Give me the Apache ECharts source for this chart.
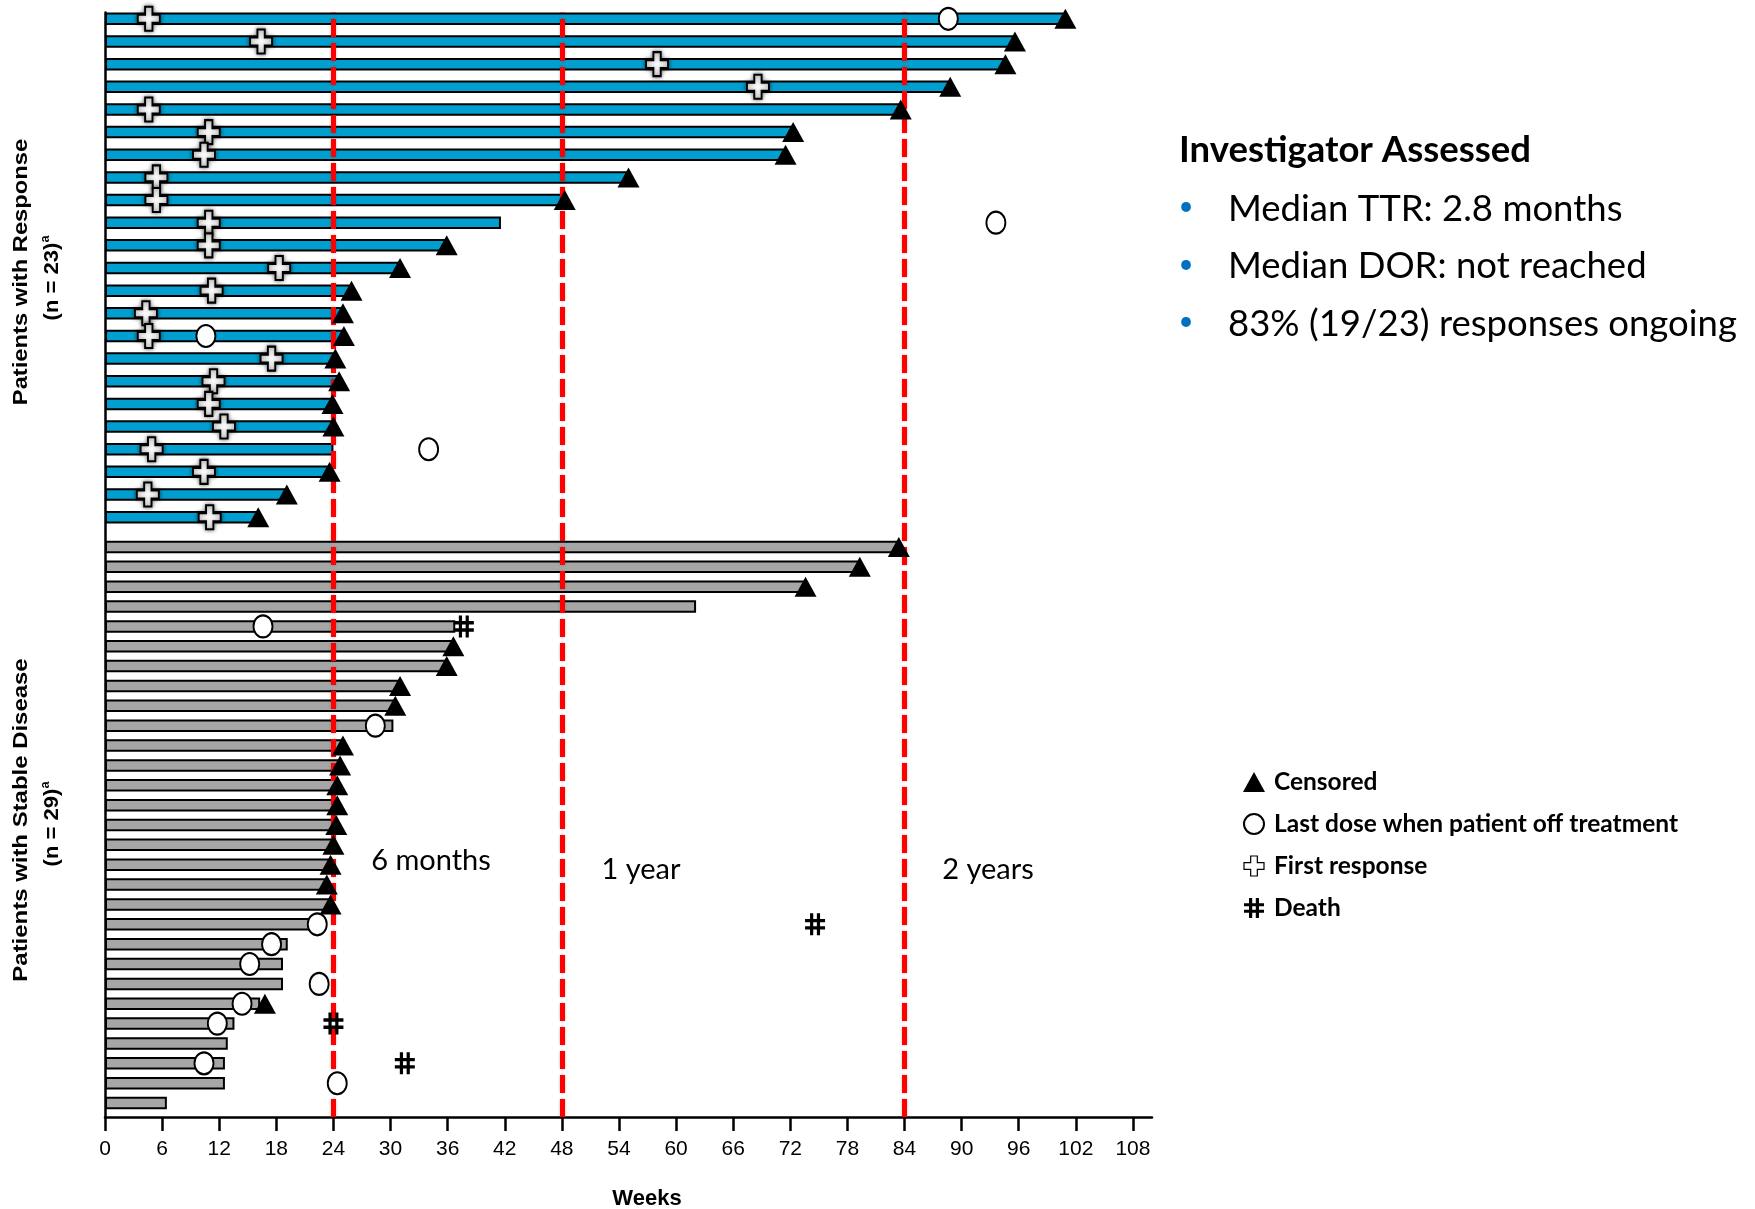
<!DOCTYPE html>
<html>
<head>
<meta charset="utf-8">
<script src="https://cdn.jsdelivr.net/npm/echarts@6/dist/echarts.min.js"></script>
<style>
  html, body { margin: 0; padding: 0; background: #ffffff; }
  #chart { width: 1755px; height: 1209px; }
</style>
</head>
<body>
<div id="chart"></div>
<script>
// ---- Patients with response (n = 23), listed top to bottom, in weeks ----
const respDuration      = [100.9, 95.6, 94.6, 88.8, 83.6, 72.3, 71.5, 55.0, 48.3, 41.6, 35.9, 31.0, 25.9, 25.0, 25.1, 24.2, 24.6, 23.9, 24.0, 24.0, 23.6, 19.1, 16.1];
const respFirstResponse = [4.6, 16.4, 58.0, 68.6, 4.6, 10.9, 10.4, 5.4, 5.4, 10.9, 10.9, 18.3, 11.2, 4.3, 4.6, 17.5, 11.4, 10.9, 12.5, 4.9, 10.4, 4.5, 11.0];
const respCensored      = [100.9, 95.6, 94.6, 88.8, 83.6, 72.3, 71.5, 55.0, 48.3, null, 35.9, 31.0, 25.9, 25.0, 25.1, 24.2, 24.6, 23.9, 24.0, null, 23.6, 19.1, 16.1];
const respLastDose      = [88.6, null, null, null, null, null, null, null, null, 93.6, null, null, null, null, 10.6, null, null, null, null, 34.0, null, null, null];

// ---- Patients with stable disease (n = 29), listed top to bottom, in weeks ----
const sdDuration = [83.4, 79.3, 73.6, 62.1, 36.8, 36.6, 35.9, 31.0, 30.5, 30.3, 25.0, 24.7, 24.4, 24.4, 24.3, 24.0, 23.7, 23.3, 23.7, 22.1, 19.2, 18.7, 18.7, 16.3, 13.6, 12.9, 12.6, 12.6, 6.5];
const sdCensored = [83.4, 79.3, 73.6, null, null, 36.6, 35.9, 31.0, 30.5, null, 25.0, 24.7, 24.4, 24.4, 24.3, 24.0, 23.7, 23.3, 23.7, null, null, null, null, 16.8, null, null, null, null, null];
const sdLastDose = [null, null, null, null, 16.6, null, null, null, null, 28.4, null, null, null, null, null, null, null, null, null, 22.3, 17.5, 15.2, 22.5, 14.4, 11.8, null, 10.4, 24.4, null];
const sdDeath    = [null, null, null, null, 37.7, null, null, null, null, null, null, null, null, null, null, null, null, null, null, 74.6, null, null, null, null, 24.0, null, 31.5, null, null];

// ---- Reference lines and axis ticks (weeks) ----
const milestoneWeeks = [24, 48, 84];
const milestoneLabels = ['6 months', '1 year', '2 years'];
const weekTicks = [0, 6, 12, 18, 24, 30, 36, 42, 48, 54, 60, 66, 72, 78, 84, 90, 96, 102, 108];

// ---- Summary text ----
const summaryTitle = 'Investigator Assessed';
const summaryBullets = ['Median TTR: 2.8 months', 'Median DOR: not reached', '83% (19/23) responses ongoing'];

const NAMES = {
  censored: 'Censored',
  lastDose: 'Last dose when patient off treatment',
  response: 'First response',
  death: 'Death'
};

const PLUS_PATH = 'path://M8,0H16V8H24V16H16V24H8V16H0V8H8Z';
const HASH_PATH = 'path://M5,0H8.2V20H5Z M11.8,0H15V20H11.8Z M0,5.2H20V8.2H0Z M0,11.8H20V14.8H0Z';

const X_MAX = 110;
const PLOT_LEFT = 105;
const PLOT_WIDTH = 1047;

const AXIS_FONT = '"Liberation Sans", Arial, sans-serif';
const TEXT_FONT = 'Lato, "Open Sans", sans-serif';

function rowPoints(values) {
  return values.map((v, i) => (v == null ? null : [v, i])).filter(Boolean);
}
function rowNames(prefix, n) {
  return Array.from({ length: n }, (_, i) => prefix + (i + 1));
}

const hiddenValueX = (gridIndex) => ({
  type: 'value', gridIndex, min: 0, max: X_MAX, show: false
});
const hiddenCatY = (gridIndex, data) => ({
  type: 'category', gridIndex, data, inverse: true, show: false
});

function markerSeries(gi, name, values, extra) {
  return Object.assign({
    type: 'scatter',
    name,
    xAxisIndex: gi,
    yAxisIndex: gi,
    data: rowPoints(values),
    silent: true,
    z: 4
  }, extra);
}

const triangleStyle = { symbol: 'triangle', symbolSize: [22, 20], itemStyle: { color: '#000000', opacity: 1 }, z: 5 };
const circleStyle = { symbol: 'circle', symbolSize: [19, 22], itemStyle: { color: '#ffffff', borderColor: '#000000', borderWidth: 2, opacity: 1 }, z: 6 };
const plusStyle = {
  symbol: PLUS_PATH, symbolSize: [22, 24],
  itemStyle: { color: '#ffffff', borderColor: '#000000', borderWidth: 2, opacity: 1, shadowBlur: 4, shadowColor: 'rgba(0,0,0,0.55)' },
  z: 6
};
const hashStyle = { symbol: HASH_PATH, symbolSize: [20, 22], itemStyle: { color: '#000000', opacity: 1 }, z: 6 };

const barBase = (gi, data, color) => ({
  type: 'bar',
  xAxisIndex: gi,
  yAxisIndex: gi,
  data,
  barWidth: 12.5,
  itemStyle: { color, borderColor: '#000000', borderWidth: 2 },
  z: 2,
  silent: true
});

function sideTitle(x, y, text, stretch) {
  return {
    type: 'text', x, y, rotation: Math.PI / 2, scaleX: stretch,
    style: { text, font: 'bold 21px ' + AXIS_FONT, fill: '#000', align: 'center', verticalAlign: 'middle' }
  };
}
function sideCount(x, y, text) {
  return {
    type: 'text', x, y, rotation: Math.PI / 2, scaleX: 1.05,
    style: {
      text: '{b|' + text + '}{s|a}', align: 'center', verticalAlign: 'middle',
      rich: {
        b: { font: 'bold 21px ' + AXIS_FONT, fill: '#000', lineHeight: 24 },
        s: { font: 'bold 12px ' + AXIS_FONT, fill: '#000', verticalAlign: 'top', lineHeight: 24 }
      }
    }
  };
}
function caption(x, y, text) {
  return {
    type: 'text', x, y,
    style: { text, font: '29px ' + TEXT_FONT, fill: '#000', align: 'center', verticalAlign: 'middle' }
  };
}

const option = {
  animation: false,
  backgroundColor: '#ffffff',
  grid: [
    { left: PLOT_LEFT, top: 7.5, width: PLOT_WIDTH, height: 521 },
    { left: PLOT_LEFT, top: 537, width: PLOT_WIDTH, height: 576 },
    { left: PLOT_LEFT, top: 12.5, width: PLOT_WIDTH, height: 1104.5 }
  ],
  xAxis: [
    hiddenValueX(0),
    hiddenValueX(1),
    {
      type: 'value', gridIndex: 2, min: 0, max: X_MAX,
      axisLine: { show: true, onZero: false, lineStyle: { color: '#000000', width: 2.5 } },
      axisTick: { show: true, customValues: weekTicks, length: 14, lineStyle: { color: '#000000', width: 2.5 } },
      axisLabel: {
        show: true, customValues: weekTicks, margin: 22,
        fontFamily: AXIS_FONT, fontSize: 21, color: '#000000'
      },
      splitLine: { show: false }
    }
  ],
  yAxis: [
    hiddenCatY(0, rowNames('R', respDuration.length)),
    hiddenCatY(1, rowNames('S', sdDuration.length)),
    {
      type: 'value', gridIndex: 2, min: 0, max: 1,
      axisLine: { show: true, onZero: false, lineStyle: { color: '#000000', width: 2.5 } },
      axisTick: { show: false }, axisLabel: { show: false }, splitLine: { show: false }
    }
  ],
  legend: {
    orient: 'vertical',
    left: 1238,
    top: 763,
    itemWidth: 22,
    itemHeight: 20,
    itemGap: 14,
    selectedMode: false,
    data: [
      { name: NAMES.censored, itemStyle: { color: '#000000' } },
      { name: NAMES.lastDose },
      { name: NAMES.response, itemStyle: { shadowBlur: 0, borderWidth: 1.2 } },
      { name: NAMES.death }
    ],
    textStyle: {
      fontFamily: TEXT_FONT, fontWeight: 'bold', fontSize: 24.5, lineHeight: 28, color: '#000000',
      padding: [0, 0, 0, 4]
    }
  },
  series: [
    barBase(0, respDuration, '#009FCF'),
    barBase(1, sdDuration, '#A6A6A6'),

    markerSeries(0, NAMES.censored, respCensored, triangleStyle),
    markerSeries(1, NAMES.censored, sdCensored, triangleStyle),
    markerSeries(0, NAMES.lastDose, respLastDose, circleStyle),
    markerSeries(1, NAMES.lastDose, sdLastDose, circleStyle),
    markerSeries(0, NAMES.response, respFirstResponse, plusStyle),
    markerSeries(1, NAMES.death, sdDeath, hashStyle),

    {
      type: 'scatter',
      name: 'milestones',
      xAxisIndex: 2,
      yAxisIndex: 2,
      data: [],
      z: 10,
      silent: true,
      markLine: {
        silent: true,
        symbol: ['none', 'none'],
        label: { show: false },
        lineStyle: {
          color: '#FF0000', width: 5, type: [18, 6],
          shadowBlur: 3, shadowColor: 'rgba(0,0,0,0.25)'
        },
        emphasis: { disabled: true },
        data: milestoneWeeks.map((w) => ({ xAxis: w }))
      }
    }
  ],
  graphic: [
    // group titles along the left edge
    sideTitle(21, 272, 'Patients with Response', 1.13),
    sideCount(52, 278, '(n = 23)'),
    sideTitle(21, 820, 'Patients with Stable Disease', 1.14),
    sideCount(52, 824, '(n = 29)'),
    // x axis title
    {
      type: 'text', x: 647, y: 1199,
      style: { text: 'Weeks', font: 'bold 22px ' + AXIS_FONT, fill: '#000', align: 'center', verticalAlign: 'middle' }
    },
    // milestone captions
    caption(431, 861, milestoneLabels[0]),
    caption(641, 870, milestoneLabels[1]),
    caption(988, 870, milestoneLabels[2]),
    // summary panel
    {
      type: 'text', x: 1179, y: 150,
      style: { text: summaryTitle, font: 'bold 36.5px ' + TEXT_FONT, fill: '#000', align: 'left', verticalAlign: 'middle' }
    }
  ].concat(summaryBullets.flatMap((t, i) => [
    {
      type: 'text', x: 1186, y: 207 + i * 57.5,
      style: { text: '\u2022', font: '26px ' + TEXT_FONT, fill: '#0070C0', align: 'center', verticalAlign: 'middle' }
    },
    {
      type: 'text', x: 1228, y: 209 + i * 57.5,
      style: { text: t, font: '36.5px ' + TEXT_FONT, fill: '#000', align: 'left', verticalAlign: 'middle' }
    }
  ]))
};

const chart = echarts.init(document.getElementById('chart'), null, { renderer: 'canvas' });
chart.setOption(option);
</script>
</body>
</html>
